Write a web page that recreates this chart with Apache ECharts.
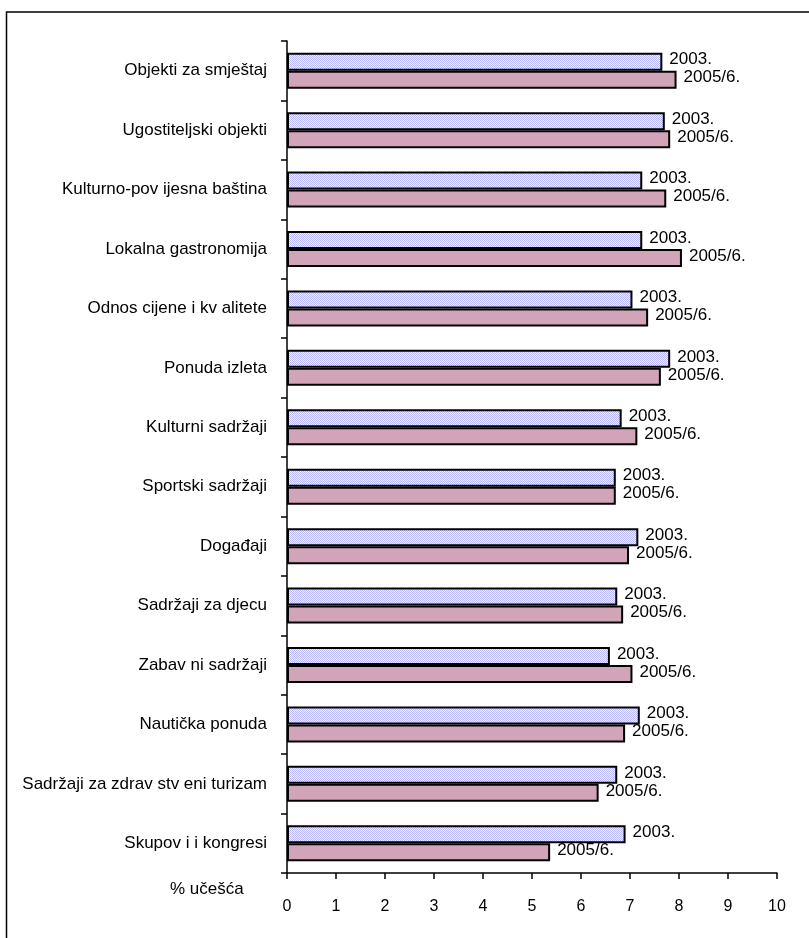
<!DOCTYPE html>
<html>
<head>
<meta charset="utf-8">
<script src="https://cdn.jsdelivr.net/npm/echarts@6/dist/echarts.min.js"></script>
<style>
html,body{margin:0;padding:0;background:#fff;}
#chart{width:809px;height:938px;}
</style>
</head>
<body>
<div id="chart"></div>
<script>
const categories = [
  "Objekti za smještaj",
  "Ugostiteljski objekti",
  "Kulturno-pov ijesna baština",
  "Lokalna gastronomija",
  "Odnos cijene i kv alitete",
  "Ponuda izleta",
  "Kulturni sadržaji",
  "Sportski sadržaji",
  "Događaji",
  "Sadržaji za djecu",
  "Zabav ni sadržaji",
  "Nautička ponuda",
  "Sadržaji za zdrav stv eni turizam",
  "Skupov i i kongresi"
];
const values2003 = [7.66, 7.71, 7.25, 7.25, 7.05, 7.82, 6.83, 6.71, 7.17, 6.74, 6.59, 7.20, 6.74, 6.91];
const values2005 = [7.95, 7.82, 7.74, 8.06, 7.37, 7.63, 7.15, 6.71, 6.98, 6.86, 7.05, 6.90, 6.36, 5.37];
const seriesNames = ["2003.", "2005/6."];
const xTicks = [0, 1, 2, 3, 4, 5, 6, 7, 8, 9, 10];
const axisName = "% učešća";

const FONT = "'Liberation Sans', Arial, sans-serif";

// fine checker pattern for 2003 bars
const pc = document.createElement('canvas');
pc.width = 2; pc.height = 2;
const pctx = pc.getContext('2d');
pctx.fillStyle = '#f0f0ff'; pctx.fillRect(0,0,2,2);
pctx.fillStyle = '#b8b8fa'; pctx.fillRect(0,0,1,1); pctx.fillRect(1,1,1,1);

const chart = echarts.init(document.getElementById('chart'), null, {renderer: 'canvas'});

const labelStyle = {
  show: true,
  position: 'right',
  distance: 7,
  offset: [0, -2],
  color: '#000',
  fontFamily: FONT,
  fontSize: 17
};

chart.setOption({
  animation: false,
  backgroundColor: '#fff',
  grid: {left: 287, right: 32, top: 41, bottom: 65, containLabel: false},
  xAxis: {
    type: 'value',
    min: xTicks[0],
    max: xTicks[xTicks.length - 1],
    interval: 1,
    axisLine: {show: true, lineStyle: {color: '#000', width: 1.5}},
    axisTick: {show: true, length: 6, lineStyle: {color: '#000', width: 1.5}},
    splitLine: {show: false},
    axisLabel: {margin: 26, color: '#000', fontFamily: FONT, fontSize: 16}
  },
  yAxis: {
    type: 'category',
    inverse: true,
    data: categories,
    axisLine: {show: true, lineStyle: {color: '#000', width: 1.5}},
    axisTick: {show: true, length: 6, lineStyle: {color: '#000', width: 1.5}},
    axisLabel: {margin: 20, color: '#000', fontFamily: FONT, fontSize: 17}
  },
  series: [
    {
      name: seriesNames[0],
      type: 'bar',
      data: values2003,
      barWidth: 18,
      barGap: '0%',
      itemStyle: {color: {image: pc, repeat: 'repeat'}, borderColor: '#000', borderWidth: 2},
      label: Object.assign({}, labelStyle, {formatter: seriesNames[0]})
    },
    {
      name: seriesNames[1],
      type: 'bar',
      data: values2005,
      barWidth: 18,
      barGap: '0%',
      itemStyle: {color: '#d2a4b9', borderColor: '#000', borderWidth: 2},
      label: Object.assign({}, labelStyle, {formatter: seriesNames[1]})
    }
  ],
  graphic: [
    {type: 'rect', shape: {x: 6.5, y: 12, width: 900, height: 1000}, style: {fill: 'none', stroke: '#000', lineWidth: 1.5}, silent: true},
    {type: 'text', left: 170, top: 881, style: {text: axisName, fill: '#000', font: '17px ' + FONT}}
  ]
});
</script>
</body>
</html>
